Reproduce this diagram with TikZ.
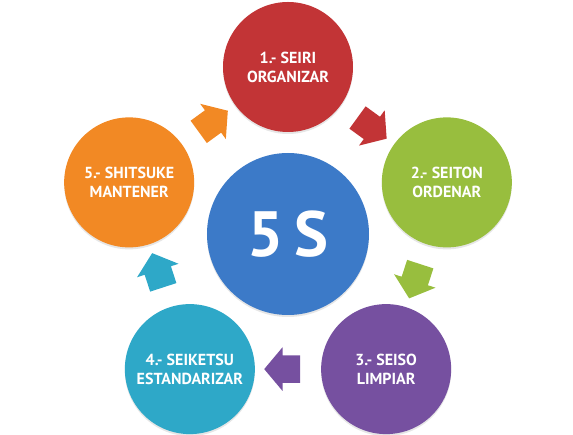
\documentclass[tikz,border=0pt]{standalone}
\usepackage{fontspec}
\setmainfont{PT Sans}
\usetikzlibrary{shapes.arrows,calc,shadows}
\definecolor{rojo}{RGB}{194,52,54}
\definecolor{verde}{RGB}{152,190,62}
\definecolor{morado}{RGB}{118,80,160}
\definecolor{celeste}{RGB}{46,168,200}
\definecolor{naranja}{RGB}{242,137,36}
\definecolor{azul}{RGB}{60,122,200}

\begin{document}
\begin{tikzpicture}[x=1pt, y=1pt, semithick,
  etapa/.style={circle, fill=#1, draw=none, minimum size=130pt, inner sep=0pt,
    text=white, align=center, font=\bfseries\fontsize{16}{19}\selectfont,
    drop shadow={opacity=0.2, shadow xshift=0pt, shadow yshift=-2pt}},
  flecha/.style={single arrow, fill=#1, draw=none, inner xsep=0pt, inner ysep=13.5pt,
    minimum height=36pt,
    single arrow head extend=8pt, single arrow tip angle=100}]
  \useasboundingbox (-288,-201) rectangle (285,234);

  % centro
  \node[etapa=azul, minimum size=162pt, font=\bfseries\fontsize{64}{64}\selectfont] (S) at (0,0) {5\,S};

  % las cinco etapas
  \node[etapa=rojo]    (S1) at (90:167)   {1.- SEIRI\\ORGANIZAR};
  \node[etapa=verde]   (S2) at (18:167)   {2.- SEITON\\ORDENAR};
  \node[etapa=morado]  (S3) at (-54:167)  {3.- SEISO\\LIMPIAR};
  \node[etapa=celeste] (S4) at (-126:167) {4.- SEIKETSU\\ESTANDARIZAR};
  \node[etapa=naranja] (S5) at (162:167)  {5.- SHITSUKE\\MANTENER};

  % flechas entre etapas
  \node[flecha=rojo,    rotate=-36]  (F1) at ($(S1)!0.5!(S2)$) {};
  \node[flecha=verde,   rotate=-108] (F2) at ($(S2)!0.5!(S3)$) {};
  \node[flecha=morado,  rotate=180]  (F3) at ($(S3)!0.5!(S4)$) {};
  \node[flecha=celeste, rotate=108]  (F4) at ($(S4)!0.5!(S5)$) {};
  \node[flecha=naranja, rotate=36]   (F5) at ($(S5)!0.5!(S1)$) {};
\end{tikzpicture}
\end{document}
